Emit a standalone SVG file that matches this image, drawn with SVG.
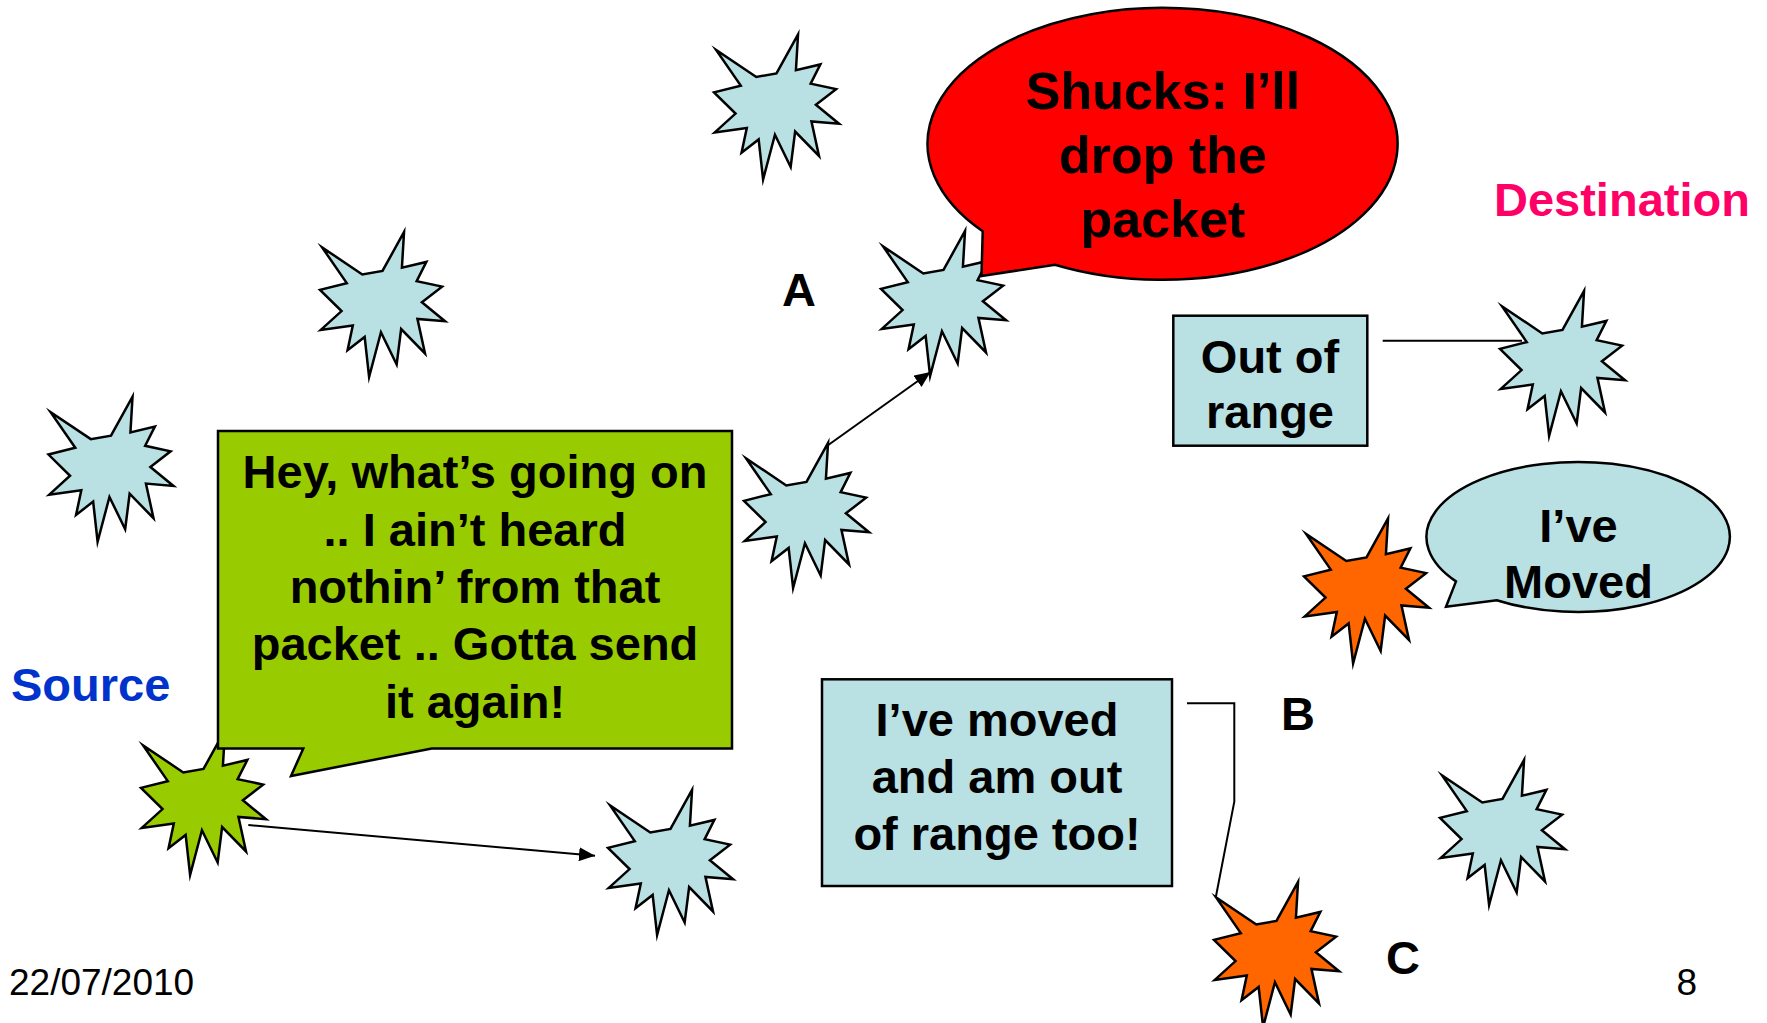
<svg xmlns="http://www.w3.org/2000/svg" xmlns:xlink="http://www.w3.org/1999/xlink" width="1767" height="1023" viewBox="0 0 1767 1023">
<style>
.star{stroke:#000;stroke-width:2.5;stroke-linejoin:miter;stroke-miterlimit:8}
.blue{fill:#B9E0E3}
.green{fill:#99CC00}
.orange{fill:#FF6600}
.shape{stroke:#000;stroke-width:2.5}
.t{font-family:"Liberation Sans",Arial,sans-serif;font-weight:bold;font-size:47px;fill:#000;text-anchor:middle}
.conn{stroke:#000;stroke-width:2;fill:none}
</style>
<defs>
<path id="seal" d="M62.5,38.94 L84.04,0 L81.92,35.75 L106.37,29.92 L96.66,49.11 L122.09,54.62 L101.89,70.32 L125,89.22 L97.44,86.88 L105.01,121.47 L81.13,97.05 L76.66,132.49 L60.95,100.26 L49.1,145 L44.65,104.9 L27.56,118.26 L32.8,93.56 L0.78,97.92 L21.54,79.05 L0,57.83 L26.78,51.13 L2.14,15.41 L42.31,42.43 Z"/>
<marker id="arr" markerUnits="userSpaceOnUse" markerWidth="16" markerHeight="14" refX="16" refY="7" orient="auto">
<path d="M0,0 L16,7 L0,14 Z" fill="#000"/>
</marker>
</defs>
<rect width="1767" height="1023" fill="#fff"/>

<g id="star-top"><use href="#seal" class="star blue" x="714" y="34.5"/></g>
<g id="star-upper-left"><use href="#seal" class="star blue" x="320" y="232"/></g>
<g id="star-left"><use href="#seal" class="star blue" x="48.5" y="396.7"/></g>
<g id="star-A"><use href="#seal" class="star blue" x="881" y="231"/></g>
<g id="star-mid"><use href="#seal" class="star blue" x="744" y="443"/></g>
<g id="star-source"><use href="#seal" class="star green" x="141" y="730"/></g>
<g id="star-bottom"><use href="#seal" class="star blue" x="608" y="790"/></g>
<g id="star-destination"><use href="#seal" class="star blue" x="1500" y="291"/></g>
<g id="star-B"><use href="#seal" class="star orange" x="1304" y="518.5"/></g>
<g id="star-right-bottom"><use href="#seal" class="star blue" x="1440" y="760"/></g>
<g id="star-C"><use href="#seal" class="star orange" x="1214" y="882"/></g>

<g id="callout-source">
<path class="shape green" d="M218,431 H732 V748.5 H431.7 L291,776 L303.3,748.5 H218 Z"/>
<text class="t" x="475" y="488">Hey, what’s going on</text>
<text class="t" x="475" y="545.5">.. I ain’t heard</text>
<text class="t" x="475" y="603">nothin’ from that</text>
<text class="t" x="475" y="660">packet .. Gotta send</text>
<text class="t" x="475" y="718">it again!</text>
</g>

<g id="callout-A">
<path class="shape" fill="#FF0000" d="M982.7,231.3 L981.5,276 L1055,264.7 A235,136 0 1 0 982.7,231.3 Z"/>
<text class="t" style="font-size:52px" x="1163" y="109">Shucks: I’ll</text>
<text class="t" style="font-size:52px" x="1163" y="173">drop the</text>
<text class="t" style="font-size:52px" x="1163" y="237">packet</text>
</g>

<g id="box-out-of-range">
<rect class="shape blue" x="1173.3" y="315.7" width="194" height="130"/>
<text class="t" x="1270" y="373.3">Out of</text>
<text class="t" x="1270" y="428.3">range</text>
</g>

<g id="callout-moved">
<path class="shape blue" d="M1456,581.4 L1446,606.7 L1496.7,600.2 A151.7,75 0 1 0 1456,581.4 Z"/>
<text class="t" x="1578.5" y="541.7">I’ve</text>
<text class="t" x="1578.5" y="598.3">Moved</text>
</g>

<g id="box-moved-out">
<rect class="shape blue" x="822" y="679.3" width="350" height="206.7"/>
<text class="t" x="997" y="735.7">I’ve moved</text>
<text class="t" x="997" y="793.3">and am out</text>
<text class="t" x="997" y="850">of range too!</text>
</g>

<g id="connectors">
<line class="conn" x1="248.3" y1="825" x2="595" y2="855.7" marker-end="url(#arr)"/>
<line class="conn" x1="828.3" y1="445" x2="930.5" y2="372" marker-end="url(#arr)"/>
<line class="conn" x1="1382.7" y1="340.7" x2="1522" y2="340.7"/>
<polyline class="conn" points="1187,703.3 1234.3,703.3 1234.3,801.7 1215.7,897.7"/>
</g>

<g id="labels">
<text class="t" x="799" y="306">A</text>
<text class="t" x="1298" y="730">B</text>
<text class="t" x="1403" y="974">C</text>
<text class="t" style="text-anchor:start;fill:#0033CC" x="11" y="701">Source</text>
<text class="t" style="text-anchor:start;fill:#FF0066" x="1494" y="216">Destination</text>
<text style="font-family:'Liberation Sans',Arial,sans-serif;font-size:37px;fill:#000" x="9" y="995">22/07/2010</text>
<text style="font-family:'Liberation Sans',Arial,sans-serif;font-size:37px;fill:#000;text-anchor:end" x="1697" y="995">8</text>
</g>
</svg>
